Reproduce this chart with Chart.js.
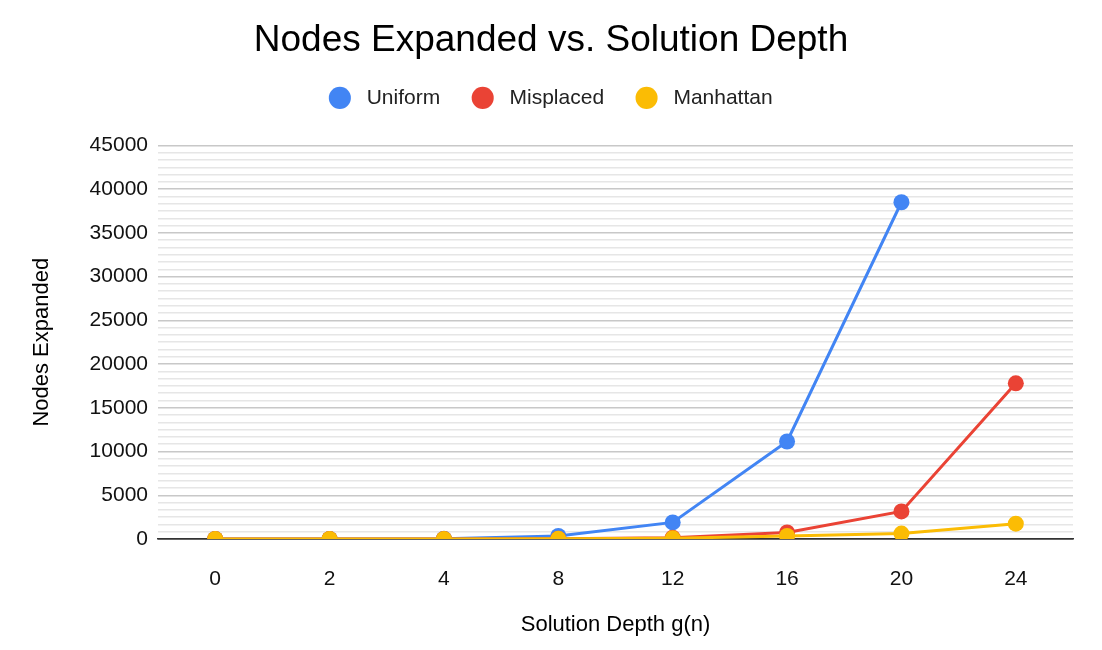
<!DOCTYPE html>
<html lang="en">
<head>
<meta charset="UTF-8">
<title>Nodes Expanded vs. Solution Depth</title>
<script src="https://cdn.jsdelivr.net/npm/chart.js"></script>
<style>
  html, body { margin: 0; padding: 0; background: #fff; }
  #wrap { width: 1102px; height: 650px; position: relative; }
</style>
</head>
<body>
<div id="wrap"><canvas id="myChart"></canvas></div>
<script>
// data
const depths = ['0', '2', '4', '8', '12', '16', '20', '24'];
const uniform = [1, 8, 30, 350, 1900, 11150, 38500, null];
const misplaced = [1, 3, 6, 30, 150, 750, 3150, 17800];
const manhattan = [1, 3, 5, 15, 80, 350, 620, 1750];

const FONT = "'Liberation Sans', Arial, sans-serif";
const MINOR = 5000 / 6;

const isMajor = (v) => Math.abs(v / 5000 - Math.round(v / 5000)) < 1e-6;

const mk = (label, data, color, order) => ({
  label: label,
  data: data,
  borderColor: color,
  backgroundColor: color,
  borderWidth: 3,
  pointRadius: 8,
  pointHoverRadius: 8,
  pointBorderWidth: 0,
  tension: 0,
  order: order
});

// extra room under the legend
const legendGap = {
  id: 'legendGap',
  beforeInit(chart) {
    const fit = chart.legend.fit;
    chart.legend.fit = function () {
      fit.bind(chart.legend)();
      this.height += 27;
    };
  }
};

new Chart(document.getElementById('myChart').getContext('2d'), {
  type: 'line',
  data: {
    labels: depths,
    datasets: [
      mk('Uniform', uniform, '#4285f4', 3),
      mk('Misplaced', misplaced, '#ea4335', 2),
      mk('Manhattan', manhattan, '#fbbc04', 1)
    ]
  },
  plugins: [legendGap],
  options: {
    responsive: true,
    maintainAspectRatio: false,
    animation: false,
    layout: { padding: { left: 29, right: 29, top: 0, bottom: 8 } },
    plugins: {
      title: {
        display: true,
        text: 'Nodes Expanded vs. Solution Depth',
        color: '#000',
        font: { family: FONT, size: 37, weight: 'normal' },
        padding: { top: 19, bottom: -8 }
      },
      legend: {
        position: 'top',
        labels: {
          usePointStyle: true,
          pointStyle: 'circle',
          boxWidth: 21,
          boxHeight: 15.6,
          padding: 32,
          color: '#222',
          font: { family: FONT, size: 21 },
          sort: (a, b) => a.datasetIndex - b.datasetIndex,
          generateLabels: (chart) => Chart.defaults.plugins.legend.labels.generateLabels(chart)
            .map((l) => Object.assign(l, { text: ' ' + l.text }))
        }
      },
      tooltip: { enabled: false }
    },
    scales: {
      x: {
        offset: true,
        grid: { display: false, drawTicks: false },
        border: { color: '#333', width: 1.5 },
        ticks: {
          color: '#111',
          padding: 28,
          font: { family: FONT, size: 21 },
          maxRotation: 0
        },
        title: {
          display: true,
          text: 'Solution Depth g(n)',
          color: '#000',
          font: { family: FONT, size: 22 },
          padding: { top: 0, bottom: 4 }
        },
        afterFit: (s) => { s.height = 103; }
      },
      y: {
        min: 0,
        max: 45000,
        border: { display: false },
        grid: {
          drawTicks: false,
          color: (c) => c.tick.value === 0 ? '#333' : (isMajor(c.tick.value) ? '#c8c8c8' : '#e6e6e6'),
          lineWidth: 1.5
        },
        ticks: {
          stepSize: MINOR,
          autoSkip: false,
          color: '#111',
          padding: 10,
          font: { family: FONT, size: 21 },
          callback: (v) => isMajor(v) ? String(Math.round(v)) : ''
        },
        title: {
          display: true,
          text: 'Nodes Expanded',
          color: '#000',
          font: { family: FONT, size: 22 },
          padding: { top: 0, bottom: 0 }
        },
        afterFit: (s) => { s.width = 129; }
      }
    }
  }
});
</script>
</body>
</html>
